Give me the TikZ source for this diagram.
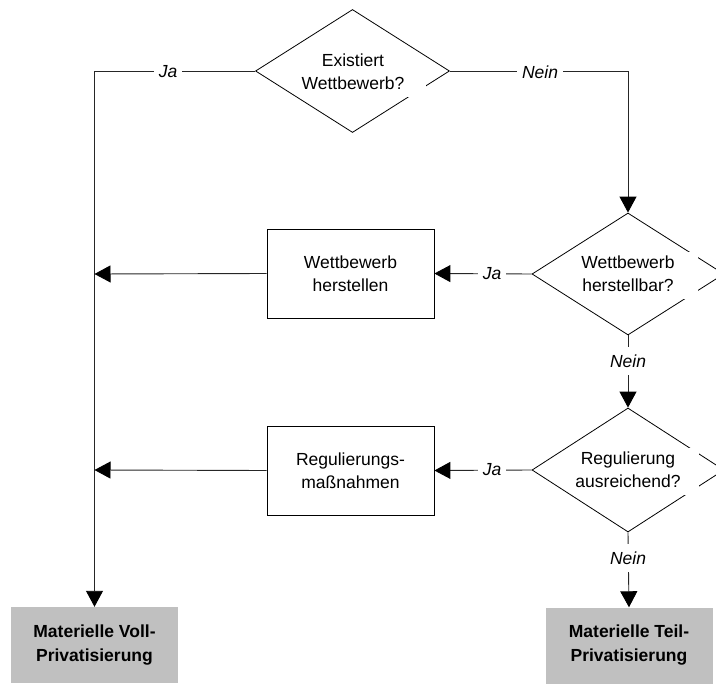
\documentclass[tikz,border=0pt]{standalone}
\usepackage{fontspec}
\setmainfont{Liberation Sans}
\usetikzlibrary{arrows.meta,shapes.geometric}
\definecolor{endgrey}{HTML}{C0C0C0}
\begin{document}
\begin{tikzpicture}[x=1pt,y=-1pt,
  every node/.style={font=\fontsize{17.5}{23}\selectfont, align=center},
  dia/.style={draw=black, shape=diamond, inner sep=0pt, line width=0.8pt,
              minimum width=194pt, minimum height=123pt},
  txt/.style={inner sep=0pt},
  box/.style={draw=black, rectangle, line width=0.8pt, minimum width=167pt, minimum height=89pt},
  endbox/.style={fill=endgrey, rectangle, minimum width=167pt, minimum height=76pt,
                 font=\fontsize{17.5}{24}\selectfont\bfseries},
  lbl/.style={fill=white, inner xsep=5pt, inner ysep=8pt, font=\fontsize{17.5}{22}\selectfont\itshape},
  conn/.style={draw=black!85, line width=0.9pt},
  arr/.style={conn, -{Triangle[length=16pt,width=17pt,color=black]}}
]
\path[use as bounding box, clip] (0,0) rectangle (716,693);

% decision diamonds
\node[dia] (d1) at (352.5,71) {};
\node[dia, minimum width=192pt, minimum height=122pt] (d2) at (628,274) {};
\node[dia, minimum width=192pt, minimum height=124pt] (d3) at (628,470) {};

% white text backgrounds that break the diamond outlines
\fill[white] (300,62) rectangle (426,97);
\fill[white] (575,252) rectangle (698,299);
\fill[white] (575,448) rectangle (699,495);

\node[txt] (t1) at (353,72) {Existiert\\Wettbewerb?};
\node[txt] (t2) at (628,274) {Wettbewerb\\herstellbar?};
\node[txt] (t3) at (628,470) {Regulierung\\ausreichend?};

% process boxes
\node[box] (b1) at (350.5,273.5) {Wettbewerb\\herstellen};
\node[box] (b2) at (350.5,470.5) {Regulierungs-\\maßnahmen};

% end boxes
\node[endbox] (e1) at (94.5,645) {Materielle Voll-\\Privatisierung};
\node[endbox] (e2) at (629,645.5) {Materielle Teil-\\Privatisierung};

% helper coordinates
\coordinate (c1) at (94.5,71);
\coordinate (c2) at (628,71);
\coordinate (h1) at (94.5,274);
\coordinate (h2) at (94.5,470);

% connectors
\draw[arr] (d1.west) -- (c1) -- (e1.north);
\draw[arr] (d1.east) -- (c2) -- (d2.north);
\draw[arr] (d2.west) -- (b1.east);
\draw[arr] (b1.west) -- (h1);
\draw[arr] (d2.south) -- (d3.north);
\draw[arr] (d3.west) -- (b2.east);
\draw[arr] (b2.west) -- (h2);
\draw[arr] (d3.south) -- (e2.north);

% connector labels
\node[lbl] (l1) at (168,72) {Ja};
\node[lbl] (l2) at (540,72) {Nein};
\node[lbl] (l3) at (492,274) {Ja};
\node[lbl] (l4) at (628,361) {Nein};
\node[lbl] (l5) at (492,470) {Ja};
\node[lbl] (l6) at (628,558) {Nein};
\end{tikzpicture}
\end{document}
